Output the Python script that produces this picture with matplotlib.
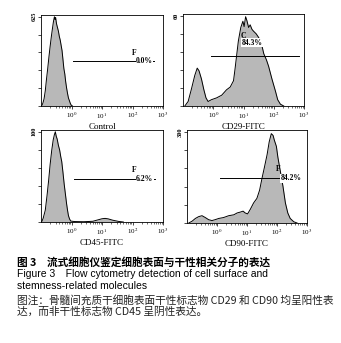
import matplotlib.pyplot as plt
import numpy as np

plt.rcParams['font.family'] = ['Liberation Serif', 'DejaVu Sans']
plt.rcParams['mathtext.fontset'] = 'stix'

# histogram data: x in log10 decades, y = event counts
ctrl_log = [-0.98, -0.94, -0.9, -0.86, -0.82, -0.78, -0.74, -0.7, -0.66, -0.62, -0.59, -0.56, -0.54,
            -0.52, -0.49, -0.46, -0.43, -0.4, -0.37, -0.34, -0.31, -0.28, -0.25, -0.22, -0.19, -0.16,
            -0.13, -0.1, -0.07, -0.04, -0.01, 0.03]
ctrl_cnt = [0, 19, 50, 106, 188, 262, 344, 419, 488, 550, 594, 625, 606, 619, 575, 550, 525, 488,
            462, 425, 388, 325, 262, 225, 169, 125, 88, 56, 38, 19, 6, 0]

cd29_log = [-0.94, -0.83, -0.72, -0.61, -0.53, -0.47, -0.39, -0.31, -0.24, -0.17, -0.06, 0.11, 0.28,
            0.44, 0.56, 0.67, 0.72, 0.78, 0.83, 0.91, 0.98, 1.02, 1.07, 1.11, 1.17, 1.22, 1.28, 1.33,
            1.42, 1.5, 1.58, 1.67, 1.76, 1.83, 1.94, 2.06, 2.13, 2.22, 2.33]
cd29_cnt = [0, 3.0, 11.4, 20.4, 25.2, 23.4, 18.0, 10.8, 5.4, 3.0, 4.2, 5.4, 7.2, 10.8, 12.6, 16.8,
            24.6, 34.8, 43.2, 52.2, 56.4, 52.8, 59.4, 57.0, 52.2, 54.0, 51.0, 49.8, 48.0, 45.6, 42.6,
            34.8, 30.6, 26.4, 18.0, 9.6, 4.2, 1.2, 0]

cd45_log = [-0.98, -0.93, -0.86, -0.8, -0.75, -0.7, -0.65, -0.6, -0.56, -0.53, -0.5, -0.47, -0.43,
            -0.39, -0.35, -0.32, -0.28, -0.24, -0.2, -0.16, -0.13, -0.1, -0.06, -0.02, 0.1, 0.4,
            0.7, 0.85, 1.0, 1.1, 1.2, 1.35, 1.55, 1.7]
cd45_cnt = [0, 4, 13, 30, 46, 64, 79, 91, 97, 100, 95, 92, 85, 80, 72, 67, 55, 42, 31, 20, 13, 7,
            3, 1, 0.5, 0.3, 0.8, 2.2, 3.6, 4.0, 3.5, 2.0, 0.6, 0]

cd90_log = [-0.94, -0.83, -0.72, -0.61, -0.5, -0.39, -0.28, -0.17, -0.06, 0.06, 0.22, 0.39, 0.56,
            0.67, 0.78, 0.87, 0.94, 1.02, 1.11, 1.22, 1.33, 1.42, 1.5, 1.58, 1.67, 1.74, 1.81, 1.87,
            1.91, 1.98, 2.03, 2.11, 2.2, 2.28, 2.36, 2.44, 2.56, 2.67]
cd90_cnt = [0, 6, 15, 21, 24, 18, 11, 8, 11, 15, 18, 24, 27, 33, 36, 39, 33, 30, 45, 66, 81, 108,
            147, 183, 225, 267, 294, 288, 273, 252, 216, 171, 120, 66, 33, 15, 4, 0]

panels = [
    # name, log x, counts, y max label, gate start/end (decades), gate height, gate letter, percent
    ('Control', ctrl_log, ctrl_cnt, 625, 0.05, 2.72, 312, 'F', '0.0%'),
    ('CD29-FITC', cd29_log, cd29_cnt, 60, -0.06, 2.83, 33.5, 'C', '84.3%'),
    ('CD45-FITC', cd45_log, cd45_cnt, 100, 0.07, 2.73, 48, 'F', '6.2%'),
    ('CD90-FITC', cd90_log, cd90_cnt, 300, 0.11, 2.78, 147, 'F', '84.2%'),
]

W, H = 341, 343
boxes = [(41, 163, 15, 106), (183, 304, 14, 106), (41, 163, 130, 222), (187, 307, 130, 223)]

fig = plt.figure(figsize=(W / 100, H / 100), dpi=100)

for (name, lx, cnt, ymax, g0, g1, gy, letter, pct), (l, r, t, b) in zip(panels, boxes):
    ax = fig.add_axes([l / W, 1 - b / H, (r - l) / W, (b - t) / H])
    x = 10 ** np.array(lx)
    ax.fill_between(x, cnt, color='#b8b8b8', lw=0)
    ax.plot(x, cnt, color='black', lw=0.7)
    ax.set_xscale('log')
    ax.set_xlim(0.1, 1000)
    ax.set_ylim(0, ymax * 1.02)
    ax.set_xticks([1, 10, 100, 1000])
    ax.set_xticklabels(['10$^0$', '10$^1$', '10$^2$', '10$^3$'])
    ax.xaxis.set_minor_locator(plt.matplotlib.ticker.LogLocator(subs=np.arange(2, 10)))
    ax.xaxis.set_minor_formatter(plt.NullFormatter())
    ax.tick_params(axis='x', which='major', length=2.5, width=0.5, labelsize=5, pad=1)
    ax.tick_params(axis='x', which='minor', length=1.2, width=0.4)
    yt = np.linspace(0, ymax, 6)
    ax.set_yticks(yt)
    ax.set_yticklabels([''] * 5 + [str(ymax)], rotation=90, va='center', fontsize=4.5,
                       fontweight='bold')
    ax.tick_params(axis='y', length=2, width=0.5, pad=1)
    for s in ax.spines.values():
        s.set_linewidth(0.6)
    ax.set_xlabel(name, fontsize=6.5, labelpad=1.5)

    # gate marker
    ax.plot([10 ** g0, 10 ** g1], [gy, gy], color='black', lw=0.7)

    if letter == 'C':
        ax.text(10 ** 1.0, ymax * 0.78, letter, fontsize=5.5, fontweight='bold', ha='center',
                va='center')
        ax.text(10 ** 1.28, ymax * 0.70, pct, fontsize=5.5, fontweight='bold', ha='center',
                va='center', bbox=dict(facecolor='white', edgecolor='none', pad=0.3))
    else:
        ax.text(10 ** 2.05, gy + ymax * 0.1, letter, fontsize=5.5, fontweight='bold', ha='center',
                va='center')
        ax.text(10 ** 2.12, gy, pct, fontsize=5.5, fontweight='bold', ha='left', va='center',
                bbox=dict(facecolor='white', edgecolor='none', pad=0.2))

cjk = ['Noto Sans CJK SC', 'DejaVu Sans']
latin = ['Liberation Sans', 'Noto Sans CJK SC']
fig.text(17 / W, 1 - 262 / H, '图 3　流式细胞仪鉴定细胞表面与干性相关分子的表达', family=cjk,
         fontsize=7.7, fontweight='bold', va='center')
fig.text(17 / W, 1 - 274 / H, 'Figure 3　Flow cytometry detection of cell surface and',
         family=latin, fontsize=7.5, va='center')
fig.text(17 / W, 1 - 286 / H, 'stemness-related molecules', family=latin,
         fontsize=7.5, va='center')
fig.text(17 / W, 1 - 300 / H, '图注：骨髓间充质干细胞表面干性标志物 CD29 和 CD90 均呈阳性表',
         family=cjk, fontsize=7.7, va='center', color='#222222')
fig.text(17 / W, 1 - 312 / H, '达，而非干性标志物 CD45 呈阴性表达。', family=cjk, fontsize=7.7,
         va='center', color='#222222')

fig.savefig('out.png', dpi=100)
